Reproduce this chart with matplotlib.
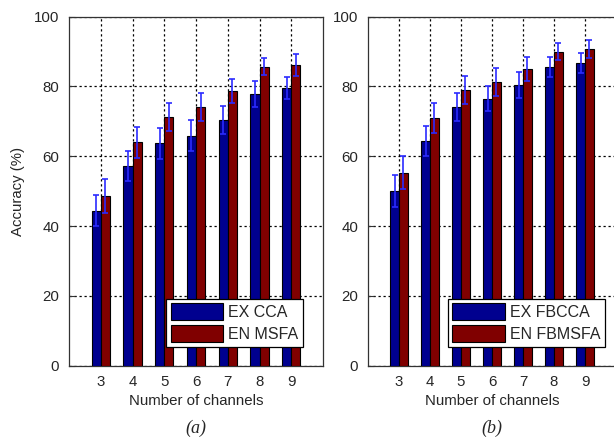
import matplotlib
matplotlib.use('Agg')
import matplotlib.pyplot as plt
import numpy as np

plt.rcParams['font.family'] = ['Liberation Sans', 'DejaVu Sans']

channels = [3, 4, 5, 6, 7, 8, 9]

# (a)
ex_cca = [44.4, 57.2, 63.7, 65.9, 70.3, 77.9, 79.5]
ex_cca_err = [4.4, 4.4, 4.4, 4.5, 4.0, 3.8, 3.1]
en_msfa = [48.6, 64.0, 71.3, 74.2, 78.7, 85.7, 86.2]
en_msfa_err = [4.9, 4.5, 4.1, 4.0, 3.5, 2.4, 3.1]

# (b)
ex_fbcca = [50.1, 64.4, 74.2, 76.5, 80.4, 85.6, 86.8]
ex_fbcca_err = [4.5, 4.4, 4.0, 3.6, 3.8, 2.9, 2.8]
en_fbmsfa = [55.3, 71.0, 79.0, 81.2, 85.1, 90.0, 90.7]
en_fbmsfa_err = [4.8, 4.4, 4.0, 4.0, 3.4, 2.5, 2.5]

blue = '#00008f'
red = '#800000'
errc = '#2b2bff'
txtc = '#262626'
w = 0.29

fig = plt.figure(figsize=(6.14, 4.41), dpi=100)
ax1 = fig.add_axes([69/614, 75.3/441, 254/614, 349/441])
ax2 = fig.add_axes([368/614, 75.3/441, 248/614, 349/441])


def draw(ax, b, be, r, re, labels, sub, legx, ylabel=False):
    x = np.array(channels)
    h1 = ax.bar(x - w/2, b, w, color=blue, edgecolor='black', linewidth=0.8, zorder=3, label=labels[0])
    h2 = ax.bar(x + w/2, r, w, color=red, edgecolor='black', linewidth=0.8, zorder=3, label=labels[1])
    ax.errorbar(x - w/2, b, yerr=be, fmt='none', ecolor=errc, elinewidth=1.2, capsize=2.5, capthick=1.2, zorder=4)
    ax.errorbar(x + w/2, r, yerr=re, fmt='none', ecolor=errc, elinewidth=1.2, capsize=2.5, capthick=1.2, zorder=4)
    ax.set_xlim(2, 10)
    ax.set_ylim(0, 100)
    ax.set_xticks(channels)
    ax.set_yticks([0, 20, 40, 60, 80, 100])
    ax.grid(True, color='black', linestyle=(0, (1.8, 2.2)), linewidth=0.9, zorder=0)
    ax.set_axisbelow(True)
    ax.tick_params(direction='in', length=4, labelsize=10.8, labelcolor=txtc, color='#333333', pad=7)
    for s in ax.spines.values():
        s.set_color('#333333')
        s.set_linewidth(0.9)
    ax.set_xlabel('Number of channels', fontsize=10.8, color=txtc, labelpad=3)
    if ylabel:
        ax.set_ylabel('Accuracy (%)', fontsize=10.8, color=txtc)
        ax.yaxis.set_label_coords(-0.175, 0.5)
    leg = ax.legend(handles=[h1, h2], loc='lower right', bbox_to_anchor=(legx, 0.054),
                    borderaxespad=0, fancybox=False, framealpha=1, edgecolor='black',
                    fontsize=11.5, handlelength=3.3, handleheight=1.25, handletextpad=0.3,
                    labelspacing=0.3, borderpad=0.3, labelcolor=txtc)
    leg.get_frame().set_linewidth(0.9)
    ax.text(0.5, -0.18, sub, transform=ax.transAxes, ha='center', va='center',
            fontsize=13, family='Liberation Serif', style='italic', color=txtc)


draw(ax1, ex_cca, ex_cca_err, en_msfa, en_msfa_err, ['EX CCA', 'EN MSFA'], '(a)', 0.921, ylabel=True)
draw(ax2, ex_fbcca, ex_fbcca_err, en_fbmsfa, en_fbmsfa_err, ['EX FBCCA', 'EN FBMSFA'], '(b)', 0.956)

fig.savefig('out.png', dpi=100)
